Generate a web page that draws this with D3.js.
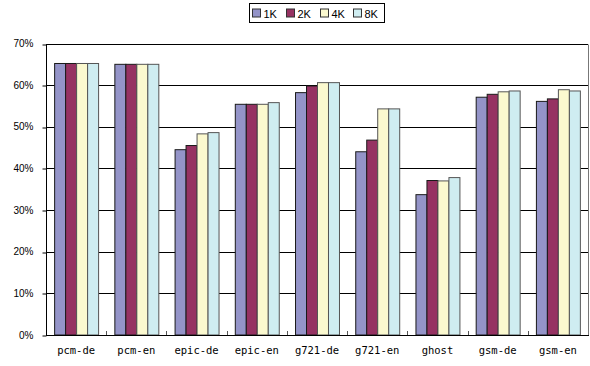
<!DOCTYPE html>
<html>
<head>
<meta charset="utf-8">
<script src="https://cdn.jsdelivr.net/npm/d3@7"></script>
<style>
  html, body { margin: 0; padding: 0; background: #fff; }
  svg { display: block; }
</style>
</head>
<body>
<svg id="chart" width="590" height="366"></svg>
<script>
// Benchmarks along the x axis
const categories = ["pcm-de", "pcm-en", "epic-de", "epic-en", "g721-de", "g721-en", "ghost", "gsm-de", "gsm-en"];
// Series (cache sizes)
const seriesNames = ["1K", "2K", "4K", "8K"];
const seriesColors = ["#9494C8", "#963262", "#FBF9CF", "#CFEDF1"];
// Values per series, one per benchmark (fractions)
const values1K = [0.652, 0.650, 0.445, 0.554, 0.582, 0.440, 0.337, 0.571, 0.561];
const values2K = [0.652, 0.650, 0.455, 0.554, 0.598, 0.468, 0.371, 0.578, 0.567];
const values4K = [0.652, 0.650, 0.483, 0.554, 0.606, 0.543, 0.370, 0.584, 0.589];
const values8K = [0.652, 0.650, 0.486, 0.558, 0.606, 0.543, 0.378, 0.586, 0.586];
const seriesValues = [values1K, values2K, values4K, values8K];
// Y axis ticks
const yTicks = [0, 0.1, 0.2, 0.3, 0.4, 0.5, 0.6, 0.7];

const svg = d3.select("#chart");
const plot = { left: 46, right: 588, top: 43.5, bottom: 335 };

const x0 = d3.scaleBand()
  .domain(categories)
  .range([plot.left, plot.right])
  .paddingInner(0.27)
  .paddingOuter(0.135);
const x1 = d3.scaleBand()
  .domain(seriesNames)
  .range([0, x0.bandwidth()]);
const y = d3.scaleLinear()
  .domain([0, 0.7])
  .range([plot.bottom, plot.top]);

// Horizontal gridlines
svg.append("g")
  .selectAll("line")
  .data(yTicks.slice(1))
  .join("line")
  .attr("x1", plot.left)
  .attr("x2", plot.right)
  .attr("y1", d => Math.round(y(d)) + 0.5)
  .attr("y2", d => Math.round(y(d)) + 0.5)
  .attr("stroke", "#000")
  .attr("stroke-width", 1);

// Right border of plot area
svg.append("line")
  .attr("x1", plot.right + 0.5).attr("x2", plot.right + 0.5)
  .attr("y1", Math.round(y(0.7)) + 0.5).attr("y2", plot.bottom)
  .attr("stroke", "#777");

// Bars
const rows = categories.map((c, i) => ({ cat: c, vals: seriesNames.map((s, k) => ({ s, k, v: seriesValues[k][i] })) }));
const groups = svg.append("g")
  .selectAll("g")
  .data(rows)
  .join("g")
  .attr("transform", d => `translate(${x0(d.cat)},0)`);
groups.selectAll("rect")
  .data(d => d.vals)
  .join("rect")
  .attr("x", d => x1(d.s) + 0.5)
  .attr("y", d => y(d.v))
  .attr("width", x1.bandwidth())
  .attr("height", d => plot.bottom - y(d.v))
  .attr("fill", d => seriesColors[d.k])
  .attr("stroke", d => d.k < 2 ? "#1a1a1a" : "#555")
  .attr("stroke-width", 1);

// Y axis
const yAxis = d3.axisLeft(y)
  .tickValues(yTicks)
  .tickFormat(d3.format(".0%"))
  .tickSize(4)
  .tickPadding(9);
const gy = svg.append("g")
  .attr("transform", `translate(${plot.left + 0.5},0)`)
  .call(yAxis);
gy.select(".domain").attr("stroke", "#000").attr("d", `M0,${Math.round(y(0.7)) + 0.5}V${plot.bottom}`);
gy.selectAll(".tick line").attr("stroke", "#000").attr("transform", d => `translate(0,${Math.round(y(d)) + 0.5 - y(d)})`);
gy.selectAll(".tick text")
  .attr("font-family", "'Liberation Sans', Arial, sans-serif")
  .attr("font-size", 10)
  .attr("fill", "#000");

// X axis
const xAxis = d3.axisBottom(x0).tickSize(0).tickPadding(11);
const gx = svg.append("g")
  .attr("transform", `translate(0,${plot.bottom + 0.5})`)
  .call(xAxis);
gx.select(".domain").attr("stroke", "#000").attr("d", `M${plot.left},0H${plot.right + 1}`);
gx.selectAll(".tick text")
  .attr("font-family", "'DejaVu Sans Mono', 'Liberation Mono', monospace")
  .attr("font-size", 10.5)
  .attr("fill", "#000");

// Small separator ticks between benchmarks
svg.append("g")
  .selectAll("line")
  .data(categories.slice(1))
  .join("line")
  .attr("x1", d => Math.round(x0(d) - x0.step() * 0.135) + 0.5)
  .attr("x2", d => Math.round(x0(d) - x0.step() * 0.135) + 0.5)
  .attr("y1", plot.bottom - 4)
  .attr("y2", plot.bottom)
  .attr("stroke", "#555");

// Top border
svg.append("line")
  .attr("x1", plot.left).attr("x2", plot.right)
  .attr("y1", Math.round(y(0.7)) + 0.5).attr("y2", Math.round(y(0.7)) + 0.5)
  .attr("stroke", "#000");

// Legend
const legend = svg.append("g").attr("transform", "translate(249.5,3.5)");
legend.append("rect")
  .attr("width", 135).attr("height", 19)
  .attr("fill", "#fff").attr("stroke", "#000");
const items = legend.selectAll("g")
  .data(seriesNames)
  .join("g")
  .attr("transform", (d, i) => `translate(${Math.round(3 + i * 33.8)},0)`);
items.append("rect")
  .attr("x", 0).attr("y", 5.5)
  .attr("width", 8).attr("height", 8)
  .attr("fill", (d, i) => seriesColors[i])
  .attr("stroke", "#333");
items.append("text")
  .attr("x", 11).attr("y", 14)
  .attr("font-family", "'Liberation Sans', Arial, sans-serif")
  .attr("font-size", 11)
  .attr("fill", "#000")
  .text(d => d);
</script>
</body>
</html>
